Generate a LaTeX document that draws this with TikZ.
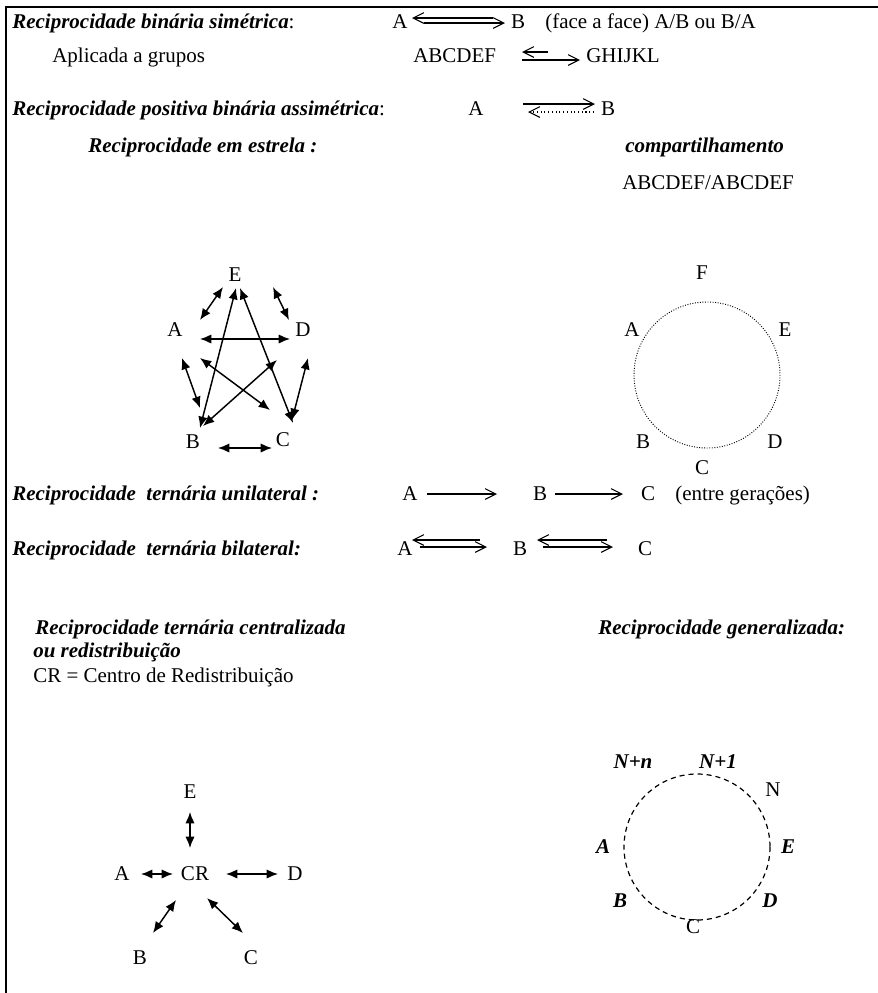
\documentclass[tikz,border=0pt]{standalone}
\usepackage{fontspec}
\setmainfont{Liberation Serif}
\usetikzlibrary{arrows.meta}

\begin{document}
\begin{tikzpicture}[
  x=0.75pt, y=-0.75pt,
  every node/.style={inner sep=0pt, font=\fontsize{15.75pt}{19pt}\selectfont},
  txt/.style={anchor=base west},
  ttl/.style={anchor=base west, font=\fontsize{15.75pt}{19pt}\selectfont\bfseries\itshape},
  ltr/.style={anchor=base},
  pt/.style={anchor=center},
  bpt/.style={anchor=center, font=\fontsize{15.75pt}{19pt}\selectfont\bfseries\itshape},
  pageframe/.style={draw, line width=1.1pt},
  oarrow/.style={draw, line width=0.8pt, -{Straight Barb[length=8pt,width=8pt]}},
  odots/.style={draw, line width=0.8pt, dotted, -{Straight Barb[length=8pt,width=8pt]}},
  farrow/.style={draw, line width=1.1pt, {Latex[length=8.5pt,width=7pt]}-{Latex[length=8.5pt,width=7pt]}},
  ring/.style={draw, line width=0.7pt, dash pattern=on 0.7pt off 1.2pt},
  dring/.style={draw, line width=0.9pt, dash pattern=on 3.8pt off 3pt}]

  \useasboundingbox (0,0) rectangle (878,993);

  % ---- frame --------------------------------------------------------------
  \coordinate (tl) at (6,7);
  \coordinate (tr) at (878,7);
  \coordinate (bl) at (6,993);
  \draw[pageframe] (tr) -- (tl) -- (bl);

  % ---- binaria simetrica --------------------------------------------------
  \node[txt] (bsT) at (12,28) {{\bfseries\itshape Reciprocidade binária simétrica}:};
  \node[ltr] (bsA) at (400,28) {A};
  \node[ltr] (bsB) at (518,28) {B};
  \node[txt] (bsN) at (545,28) {(face a face) A/B ou B/A};
  \coordinate (bs1) at (493,18); \coordinate (bs2) at (412,18);
  \coordinate (bs3) at (424,23); \coordinate (bs4) at (505,23);
  \draw[oarrow] (bs1) -- (bs2);
  \draw[oarrow] (bs3) -- (bs4);

  \node[txt] (grT) at (52,62) {Aplicada a grupos};
  \node[txt] (grL) at (413,62) {ABCDEF};
  \node[txt] (grR) at (586,62) {GHIJKL};
  \coordinate (gr1) at (548,52); \coordinate (gr2) at (522,52);
  \coordinate (gr3) at (522,60); \coordinate (gr4) at (580,60);
  \draw[oarrow] (gr1) -- (gr2);
  \draw[oarrow] (gr3) -- (gr4);

  % ---- positiva assimetrica -----------------------------------------------
  \node[txt] (paT) at (12,115) {{\bfseries\itshape Reciprocidade positiva binária assimétrica}:};
  \node[ltr] (paA) at (476,115) {A};
  \node[ltr] (paB) at (608,115) {B};
  \coordinate (pa1) at (523,104); \coordinate (pa2) at (595,104);
  \coordinate (pa3) at (594,112); \coordinate (pa4) at (528,112);
  \draw[oarrow] (pa1) -- (pa2);
  \draw[odots] (pa3) -- (pa4);

  % ---- estrela ------------------------------------------------------------
  \node[ttl] (esT) at (88,152) {Reciprocidade em estrela :};
  \node[ttl] (coT) at (625,152) {compartilhamento};
  \node[txt] (coN) at (622,189) {ABCDEF/ABCDEF};

  \node[pt] (eE) at (235,275) {E};
  \node[pt] (eA) at (175,330) {A};
  \node[pt] (eD) at (303,330) {D};
  \node[pt] (eB) at (193,442) {B};
  \node[pt] (eC) at (283,440) {C};

  \coordinate (ea1) at (223,287); \coordinate (ea2) at (200,320);
  \coordinate (ed1) at (273,287); \coordinate (ed2) at (289,320);
  \coordinate (ad1) at (200,339); \coordinate (ad2) at (290,339);
  \coordinate (ab1) at (182,358); \coordinate (ab2) at (200,408);
  \coordinate (dc1) at (308,358); \coordinate (dc2) at (292,420);
  \coordinate (bc1) at (218,448); \coordinate (bc2) at (272,448);
  \coordinate (eb1) at (236,288); \coordinate (eb2) at (200,428);
  \coordinate (ec1) at (240,288); \coordinate (ec2) at (293,423);
  \coordinate (ac1) at (200,358); \coordinate (ac2) at (270,410);
  \coordinate (db1) at (277,360); \coordinate (db2) at (203,426);
  \draw[farrow] (ea1) -- (ea2);
  \draw[farrow] (ed1) -- (ed2);
  \draw[farrow] (ad1) -- (ad2);
  \draw[farrow] (ab1) -- (ab2);
  \draw[farrow] (dc1) -- (dc2);
  \draw[farrow] (bc1) -- (bc2);
  \draw[farrow] (eb1) -- (eb2);
  \draw[farrow] (ec1) -- (ec2);
  \draw[farrow] (ac1) -- (ac2);
  \draw[farrow] (db1) -- (db2);

  % ---- compartilhamento ---------------------------------------------------
  \coordinate (cO) at (707,375);
  \draw[ring] (cO) circle[radius=73];
  \node[pt] (cF) at (702,273) {F};
  \node[pt] (cA) at (632,330) {A};
  \node[pt] (cE) at (785,330) {E};
  \node[pt] (cB) at (643,442) {B};
  \node[pt] (cD) at (775,442) {D};
  \node[pt] (cC) at (702,468) {C};

  % ---- ternaria unilateral ------------------------------------------------
  \node[ttl] (tuT) at (12,500) {Reciprocidade\ \ ternária unilateral :};
  \node[ltr] (tuA) at (410,500) {A};
  \node[ltr] (tuB) at (540,500) {B};
  \node[ltr] (tuC) at (648,500) {C};
  \node[txt] (tuN) at (675,500) {(entre gerações)};
  \coordinate (tu1) at (427,494); \coordinate (tu2) at (497,494);
  \coordinate (tu3) at (555,494); \coordinate (tu4) at (623,494);
  \draw[oarrow] (tu1) -- (tu2);
  \draw[oarrow] (tu3) -- (tu4);

  % ---- ternaria bilateral -------------------------------------------------
  \node[ttl] (tbT) at (12,555) {Reciprocidade\ \ ternária bilateral:};
  \node[ltr] (tbA) at (405,555) {A};
  \node[ltr] (tbB) at (520,555) {B};
  \node[ltr] (tbC) at (645,555) {C};
  \coordinate (tb1) at (480,540); \coordinate (tb2) at (412,540);
  \coordinate (tb3) at (420,547); \coordinate (tb4) at (487,547);
  \coordinate (tb5) at (607,540); \coordinate (tb6) at (537,540);
  \coordinate (tb7) at (543,547); \coordinate (tb8) at (613,547);
  \draw[oarrow] (tb1) -- (tb2);
  \draw[oarrow] (tb3) -- (tb4);
  \draw[oarrow] (tb5) -- (tb6);
  \draw[oarrow] (tb7) -- (tb8);

  % ---- centralizada / redistribuicao --------------------------------------
  \node[ttl] (rcT) at (35,634) {Reciprocidade ternária centralizada};
  \node[ttl] (rcU) at (33,657) {ou redistribuição};
  \node[txt] (rcN) at (33,682) {CR = Centro de Redistribuição};

  \node[pt] (hE) at (190,792) {E};
  \node[pt] (hR) at (195,874) {CR};
  \node[pt] (hA) at (122,874) {A};
  \node[pt] (hD) at (295,874) {D};
  \node[pt] (hB) at (140,958) {B};
  \node[pt] (hC) at (251,958) {C};
  \coordinate (he1) at (190,812); \coordinate (he2) at (190,848);
  \coordinate (ha1) at (141,874); \coordinate (ha2) at (173,874);
  \coordinate (hd1) at (226,874); \coordinate (hd2) at (278,874);
  \coordinate (hb1) at (176,900); \coordinate (hb2) at (153,933);
  \coordinate (hc1) at (207,898); \coordinate (hc2) at (243,933);
  \draw[farrow] (he1) -- (he2);
  \draw[farrow] (ha1) -- (ha2);
  \draw[farrow] (hd1) -- (hd2);
  \draw[farrow] (hb1) -- (hb2);
  \draw[farrow] (hc1) -- (hc2);

  % ---- generalizada -------------------------------------------------------
  \node[ttl] (geT) at (598,634) {Reciprocidade generalizada:};
  \coordinate (gO) at (697,847);
  \draw[dring] (gO) circle[radius=73];
  \node[bpt] (gNn) at (633,762) {N+n};
  \node[bpt] (gN1) at (718,762) {N+1};
  \node[pt]  (gN)  at (773,790) {N};
  \node[bpt] (gA)  at (603,847) {A};
  \node[bpt] (gE)  at (788,847) {E};
  \node[bpt] (gB)  at (620,901) {B};
  \node[bpt] (gD)  at (770,901) {D};
  \node[pt]  (gC)  at (693,927) {C};
\end{tikzpicture}
\end{document}
